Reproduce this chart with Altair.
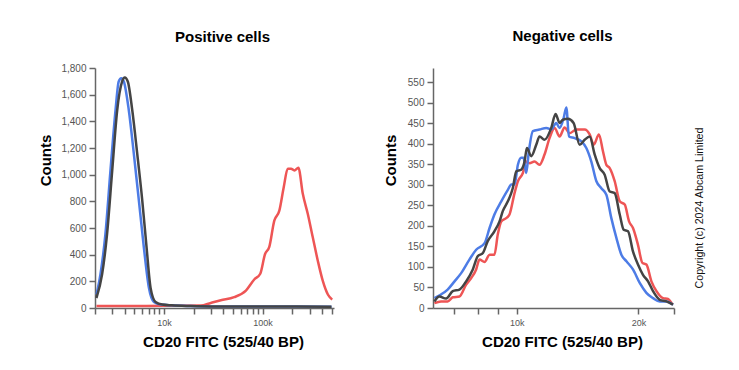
import altair as alt
import pandas as pd

FONT = "Liberation Sans"
BLUE = "#4d7ce6"
RED = "#ee5555"
BLACK = "#444444"
COPYRIGHT = "Copyright (c) 2024 Abcam Limited"

# ---------------- Positive cells (log x) ----------------
pos_blue_x = [2070, 2270, 2550, 2870, 3230, 3480, 3690, 3920, 4400, 4950, 5570, 6260,
              7040, 7910, 9260, 12000, 18700, 30000, 100000, 500000]
pos_blue_y = [101, 252, 554, 1032, 1485, 1699, 1724, 1699, 1485, 1158, 806, 453,
              151, 45, 26, 20, 15, 12, 11, 10]

pos_black_x = [2070, 2360, 2650, 2990, 3360, 3770, 4010, 4300, 4770, 5360, 6030, 6670,
               7320, 8230, 9630, 12000, 18700, 30000, 100000, 500000]
pos_black_y = [75, 252, 554, 1032, 1485, 1699, 1729, 1699, 1485, 1158, 806, 453,
               151, 45, 26, 20, 15, 12, 11, 10]

pos_red_x = [2070, 5000, 10000, 15000, 23620, 29850, 37740, 51530, 67780, 82340, 94760,
             105800, 117000, 131500, 147900, 163900, 180000, 194500, 210200, 230800,
             255800, 287600, 323300, 363500, 408800, 459500, 508200]
pos_red_y = [15, 15, 16, 17, 18, 38, 58, 81, 131, 214, 257,
             403, 458, 655, 730, 906, 1045, 1045, 1032, 1052,
             856, 705, 528, 353, 201, 101, 63]

pos_x_ticks = [2000, 3000, 4000, 5000, 6000, 7000, 8000, 9000, 10000,
               20000, 30000, 40000, 50000, 60000, 70000, 80000, 90000, 100000,
               200000, 300000, 400000, 500000]
pos_y_ticks = [0, 200, 400, 600, 800, 1000, 1200, 1400, 1600, 1800]

# ---------------- Negative cells (log x) ----------------
neg_blue_x = [6250, 6490, 6740, 7010, 7280, 7630, 7930, 8320, 8560, 8800, 9150, 9500,
              9690, 9870, 10060, 10250, 10390, 10550, 10710, 10960, 11380, 11830, 12170,
              12520, 12760, 13060, 13260, 13460, 13900, 14450, 14860, 15290, 15740, 16190,
              16660, 17140, 17640, 18150, 18680, 19390, 20150, 20930, 21740, 22590, 23460,
              24370]
neg_blue_y = [24, 33, 45, 65, 85, 118, 142, 158, 195, 228, 260, 288,
              301, 301, 349, 366, 366, 329, 382, 431, 435, 439, 435,
              451, 439, 463, 489, 418, 414, 406, 390, 357, 309, 292,
              276, 219, 171, 130, 114, 94, 61, 37, 24, 16, 16,
              8]

neg_black_x = [6250, 6430, 6680, 6940, 7210, 7490, 7780, 8000, 8240, 8470, 8800, 9060,
               9230, 9500, 9770, 9970, 10250, 10450, 10590, 10860, 11170, 11380, 11710,
               12170, 12470, 12760, 13000, 13380, 13820, 14310, 14720, 15150, 15590, 16040,
               16500, 16980, 17470, 17980, 18390, 18850, 19390, 19950, 20530, 21130, 21740,
               22590, 23460, 24370]
neg_black_y = [16, 28, 23, 41, 45, 65, 94, 126, 134, 163, 187, 211,
               236, 260, 292, 333, 337, 357, 390, 370, 398, 418, 410,
               439, 473, 451, 459, 461, 451, 398, 410, 418, 374, 341,
               325, 284, 280, 228, 191, 187, 138, 106, 81, 65, 41,
               20, 16, 8]

neg_red_x = [6250, 6490, 6740, 6940, 7210, 7490, 7710, 7930, 8080, 8320, 8560, 8800,
             8970, 9150, 9410, 9590, 9870, 10060, 10350, 10550, 10750, 11060, 11380,
             11710, 12050, 12400, 12760, 13130, 13510, 14040, 14720, 15150, 15500, 15970,
             16340, 16660, 16980, 17470, 17980, 18500, 18960, 19390, 19950, 20460, 20930,
             21540, 22170, 23010, 23680, 24280]
neg_red_y = [12, 16, 16, 26, 28, 57, 73, 94, 118, 112, 130, 130,
             179, 211, 219, 228, 280, 309, 329, 357, 353, 357, 349,
             374, 414, 439, 418, 440, 426, 435, 435, 423, 398, 423,
             382, 349, 341, 309, 260, 252, 211, 195, 154, 110, 106,
             65, 41, 24, 22, 8]

neg_x_ticks = [7000, 8000, 9000, 10000, 20000, 24500]
neg_y_ticks = [0, 50, 100, 150, 200, 250, 300, 350, 400, 450, 500, 550]

X_TITLE = "CD20 FITC (525/40 BP)"
Y_TITLE = "Counts"


def x_axis(ticks, expr, title_x):
    return alt.Axis(values=ticks, labelExpr=expr, title=X_TITLE, labelFontSize=9,
                    labelPadding=4, labelOverlap=False, labelFlush=False,
                    titleX=title_x, titleY=33, titleBaseline="middle", titleAlign="center")


def y_axis(ticks, title_x):
    return alt.Axis(values=ticks, format=",d", title=Y_TITLE, labelFontSize=10,
                    labelPadding=3, titleX=title_x, titleY=92, titleAngle=270,
                    titleBaseline="middle", titleAlign="center")


def panel(series, xscale, yscale, xaxis, yaxis):
    layers = []
    for xs, ys, color in series:
        df = pd.DataFrame({"x": xs, "y": ys})
        layers.append(
            alt.Chart(df).mark_line(color=color, strokeWidth=2.5, interpolate="monotone").encode(
                x=alt.X("x:Q", scale=xscale, axis=xaxis),
                y=alt.Y("y:Q", scale=yscale, axis=yaxis),
            )
        )
    return layers


pos_layers = panel(
    [(pos_red_x, pos_red_y, RED), (pos_blue_x, pos_blue_y, BLUE), (pos_black_x, pos_black_y, BLACK)],
    alt.Scale(type="log", domain=[2000, 530000], nice=False),
    alt.Scale(domain=[0, 1800], nice=False),
    x_axis(pos_x_ticks, "datum.value == 10000 ? '10k' : datum.value == 100000 ? '100k' : ''", 128),
    y_axis(pos_y_ticks, -50),
)
left = alt.layer(*pos_layers).properties(
    width=239, height=240,
    title=alt.TitleParams("Positive cells", fontSize=15, fontWeight="bold", font=FONT,
                          color="black", dx=8, offset=18),
)

neg_layers = panel(
    [(neg_red_x, neg_red_y, RED), (neg_blue_x, neg_blue_y, BLUE), (neg_black_x, neg_black_y, BLACK)],
    alt.Scale(type="log", domain=[6200, 24500], nice=False),
    alt.Scale(domain=[0, 585], nice=False),
    x_axis(neg_x_ticks, "datum.value == 10000 ? '10k' : datum.value == 20000 ? '20k' : ''", 129),
    y_axis(neg_y_ticks, -43),
)
copyright_df = pd.DataFrame({"t": [COPYRIGHT]})
copyright_text = alt.Chart(copyright_df).mark_text(
    angle=270, fontSize=10.7, font=FONT, color="#111111", align="center", baseline="middle"
).encode(x=alt.value(267), y=alt.value(140), text="t:N")

right = alt.layer(*neg_layers, copyright_text).properties(
    width=241, height=240,
    title=alt.TitleParams("Negative cells", fontSize=15, fontWeight="bold", font=FONT,
                          color="black", dx=9, offset=24),
)

chart = alt.hconcat(left, right, spacing=45).properties(
    padding={"left": 30, "top": 21, "right": 5, "bottom": 5}
).configure_axis(
    domainColor="#666666", domainWidth=1.5, tickColor="#666666", tickWidth=1.5, tickSize=6,
    labelColor="#555555", labelFont=FONT, titleFont=FONT, titleFontSize=15,
    titleFontWeight="bold", titleColor="black", grid=False,
).configure_view(strokeWidth=0)

chart.save("out.html", embed_options={"renderer": "svg", "actions": False})
